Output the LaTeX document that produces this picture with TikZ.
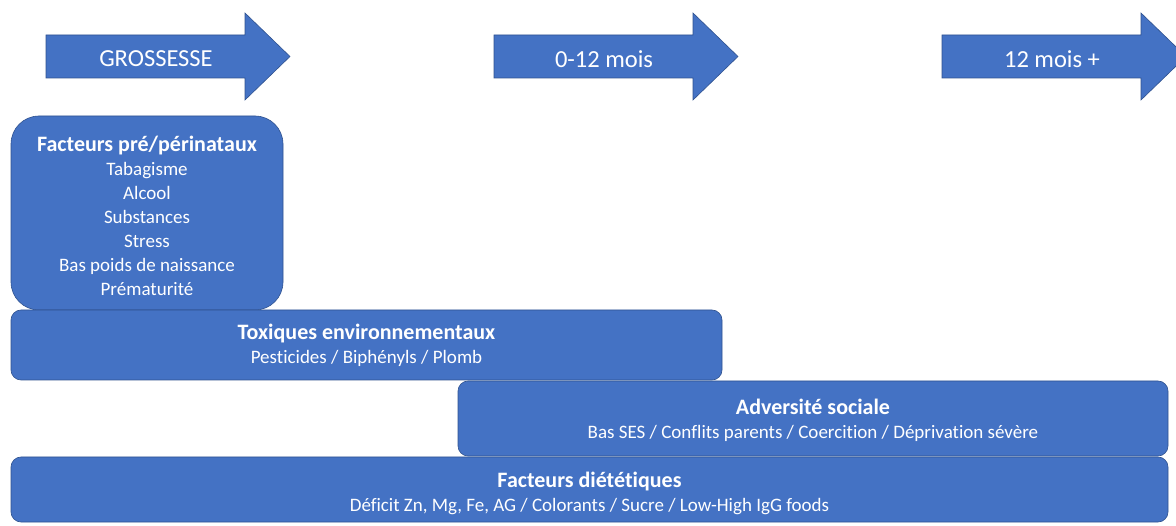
\documentclass[tikz,border=0pt]{standalone}
\usepackage{fontspec}
\setmainfont{Carlito}[Ligatures=NoCommon]
\definecolor{boxblue}{HTML}{4472C4}
\definecolor{edgeblue}{HTML}{2F528F}
\newcommand{\boxtitle}[1]{{\fontsize{22}{24}\selectfont\bfseries #1}}

\begin{document}
\begin{tikzpicture}[x=1pt,y=-1pt]
    \tikzstyle{period}=[
        fill = boxblue,
        draw = edgeblue,
        line width = 0.6pt
    ]
    \tikzstyle{period text}=[
        text = white,
        font = \fontsize{24.5}{28}\selectfont
    ]
    \tikzstyle{factor}=[
        fill = boxblue,
        draw = edgeblue,
        line width = 0.6pt,
        rectangle,
        rounded corners = 10pt,
        inner sep = 0pt
    ]
    \tikzstyle{factor text}=[
        text = white,
        align = center,
        inner sep = 0pt,
        font = \fontsize{19}{24}\selectfont
    ]

    \useasboundingbox (0,0) rectangle (1176,526);

    % periodes
    \foreach \x/\name/\txt in {46/g/GROSSESSE, 494/m/0-12 mois, 942/p/12 mois +}{
        \draw[period] (\x,35) -- (\x+199,35) -- (\x+199,13) -- (\x+244,56.5)
            -- (\x+199,100) -- (\x+199,78) -- (\x,78) -- cycle;
        \node[period text] (\name) at (\x+110,59) {\txt};
    }

    % facteurs
    \node[factor, rounded corners = 28pt, minimum width = 272pt, minimum height = 194pt]
        (peri) at (147,213) {};
    \node[factor text] (peri text) at ([yshift=-3pt]peri.center)
        {\boxtitle{Facteurs pré/périnataux}\\Tabagisme\\Alcool\\Substances\\Stress\\Bas poids de naissance\\Prématurité};

    \node[factor, minimum width = 711pt, minimum height = 70pt] (tox) at (366.5,345) {};
    \node[factor text] (tox text) at (tox.center)
        {\boxtitle{Toxiques environnementaux}\\Pesticides / Biphényls / Plomb};

    \node[factor, minimum width = 710pt, minimum height = 75pt] (soc) at (813,418.5) {};
    \node[factor text] (soc text) at ([yshift=-1.5pt]soc.center)
        {\boxtitle{Adversité sociale}\\Bas SES / Conflits parents / Coercition / Déprivation sévère};

    \node[factor, minimum width = 1157pt, minimum height = 65pt] (diet) at (589.5,489.5) {};
    \node[factor text] (diet text) at ([yshift=-3.5pt]diet.center)
        {\boxtitle{Facteurs diététiques}\\Déficit Zn, Mg, Fe, AG / Colorants / Sucre / Low-High IgG foods};

\end{tikzpicture}
\end{document}
